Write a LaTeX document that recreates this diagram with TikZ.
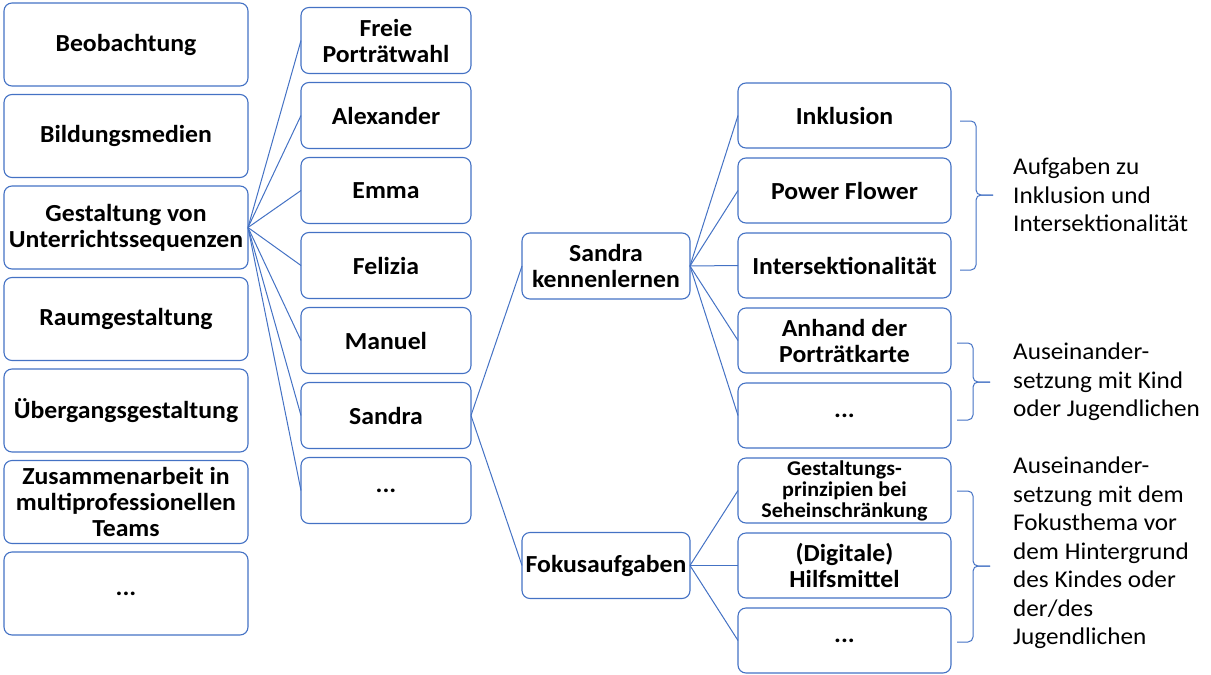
\documentclass[tikz,border=0pt]{standalone}
\usepackage{fontspec}
\setmainfont{Carlito}[FakeStretch=1.05]
\usetikzlibrary{positioning}
\definecolor{boxblue}{RGB}{68,114,196}
\tikzset{
    box/.style={draw=boxblue, line width=1.1pt, rounded corners=8pt, align=flush center, inner sep=2pt, outer sep=0pt, font=\bfseries\fontsize{24.5}{26}\selectfont},
    topic/.style={box, minimum width=244pt, minimum height=83pt, text width=240pt},
    child/.style={box, minimum width=170pt, minimum height=66pt, text width=166pt},
    part/.style={box, minimum width=168pt, minimum height=66pt, text width=164pt},
    task/.style={box, minimum width=213pt, minimum height=65pt, text width=209pt},
    link/.style={draw=boxblue, line width=1pt},
    bracket/.style={draw=boxblue, line width=1pt, rounded corners=5pt},
    note/.style={align=left, anchor=west, inner sep=0pt, font=\fontsize{24}{28.5}\selectfont}
}
\begin{document}
\begin{tikzpicture}[x=1pt, y=1pt, node distance=8.5pt]
    \useasboundingbox (0,0) rectangle (1211,-675);
    \node[topic] (beob) at (126,-44.5) {Beobachtung};
    \node[topic, below=of beob] (medien) {Bildungsmedien};
    \node[topic, below=of medien] (gest) {Gestaltung von\\Unterrichtssequenzen};
    \node[topic, below=of gest] (raum) {Raumgestaltung};
    \node[topic, below=of raum] (ueber) {Übergangsgestaltung};
    \node[topic, below=of ueber] (team) {Zusammenarbeit in\\multiprofessionellen\\Teams};
    \node[topic, below=of team] (more1) {...};

    \node[child] (freie) at (386,-40.5) {Freie\\Porträtwahl};
    \node[child, below=9pt of freie] (alex) {Alexander};
    \node[child, below=9pt of alex] (emma) {Emma};
    \node[child, below=9pt of emma] (felizia) {Felizia};
    \node[child, below=9pt of felizia] (manuel) {Manuel};
    \node[child, below=9pt of manuel] (sandra) {Sandra};
    \node[child, below=9pt of sandra] (more2) {...};

    \node[part] (kennen) at (606,-266) {Sandra\\kennenlernen};
    \node[part] (fokus) at (606,-565.5) {Fokusaufgaben};

    \node[task] (inkl) at (844.5,-115.5) {Inklusion};
    \node[task, below=10pt of inkl] (power) {Power Flower};
    \node[task, below=10pt of power] (inter) {Intersektionalität};
    \node[task, below=10pt of inter] (karte) {Anhand der\\Porträtkarte};
    \node[task, below=10pt of karte] (more3) {...};
    \node[task, below=10pt of more3, inner sep=1pt, font=\bfseries\fontsize{21}{21}\selectfont] (seh) {Gestaltungs-\\prinzipien bei\\Seheinschränkung};
    \node[task, below=10pt of seh] (hilfe) {(Digitale)\\Hilfsmittel};
    \node[task, below=10pt of hilfe] (more4) {...};

    \foreach \n in {freie,alex,emma,felizia,manuel,sandra,more2}
        \draw[link] (gest.east) -- (\n.west);
    \draw[link] (sandra.east) -- (kennen.west);
    \draw[link] (sandra.east) -- (fokus.west);
    \foreach \n in {inkl,power,inter,karte,more3}
        \draw[link] (kennen.east) -- (\n.west);
    \foreach \n in {seh,hilfe,more4}
        \draw[link] (fokus.east) -- (\n.west);

    \foreach \ya/\ym/\yb/\xa in {121/195/270/960, 343/382/420/957, 491/566/642/957}{
        \draw[bracket] (\xa,-\ya) -- (\xa+16,-\ya) -- (\xa+16,-\ym) -- (\xa+33,-\ym);
        \draw[bracket] (\xa,-\yb) -- (\xa+16,-\yb) -- (\xa+16,-\ym) -- (\xa+33,-\ym);
    }

    \node[note] (aufg) at (1013,-195) {Aufgaben zu\\Inklusion und\\Intersektionalität};
    \node[note] (kind) at (1013,-382) {Auseinander-\\setzung mit Kind\\oder Jugendlichen};
    \node[note] (thema) at (1013,-553) {Auseinander-\\setzung mit dem\\Fokusthema vor\\dem Hintergrund\\des Kindes oder\\der/des\\Jugendlichen};
\end{tikzpicture}
\end{document}
